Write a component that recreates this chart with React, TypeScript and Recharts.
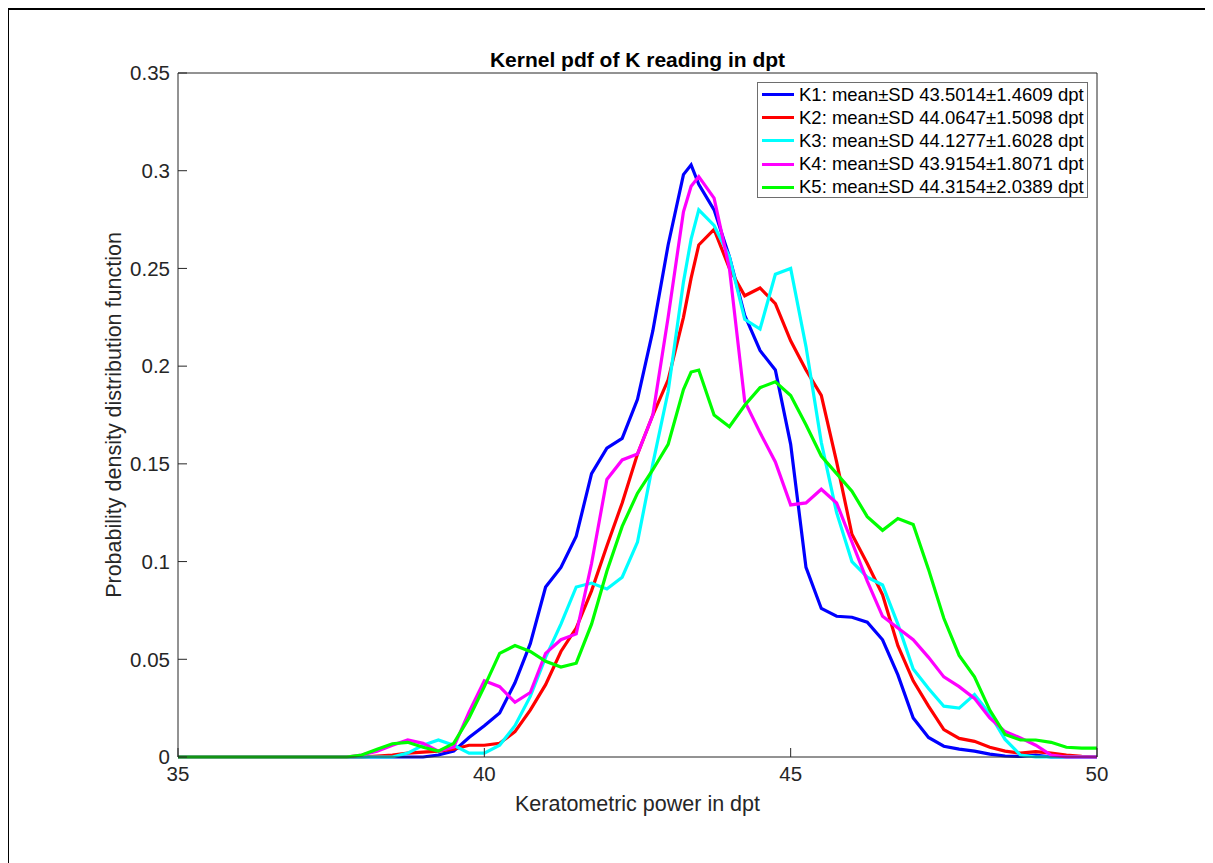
import React from 'react';
import { LineChart, Line, XAxis, YAxis, Legend } from 'recharts';

// keratometric power grid (dpt) and kernel pdf estimates
const kPower = [
  35, 36, 37, 37.5, 37.75, 38, 38.25, 38.5, 38.75, 39, 39.25, 39.5, 39.75, 40, 40.25, 40.5, 40.75,
  41, 41.25, 41.5, 41.75, 42, 42.25, 42.5, 42.75, 43, 43.25, 43.375, 43.5, 43.75, 44, 44.25, 44.5,
  44.75, 45, 45.25, 45.5, 45.75, 46, 46.25, 46.5, 46.75, 47, 47.25, 47.5, 47.75, 48, 48.25, 48.5,
  48.75, 49, 49.25, 49.5, 49.75, 50,
];

const k1 = [
  0, 0, 0, 0, 0, 0, 0, 0, 0, 0, 0.001, 0.003, 0.01, 0.016, 0.0225, 0.038, 0.058,
  0.087, 0.097, 0.113, 0.145, 0.158, 0.163, 0.183, 0.218, 0.262, 0.298, 0.303, 0.293, 0.28, 0.256, 0.226, 0.208,
  0.198, 0.16, 0.097, 0.076, 0.072, 0.0715, 0.069, 0.06, 0.042, 0.02, 0.01, 0.0055, 0.004, 0.003, 0.0015, 0.0005,
  0.0003, 0.001, 0, 0, 0, 0,
];

const k2 = [
  0, 0, 0, 0, 0, 0, 0.0005, 0.001, 0.002, 0.0025, 0.003, 0.004, 0.006, 0.006, 0.007, 0.013, 0.024,
  0.037, 0.054, 0.066, 0.085, 0.108, 0.13, 0.155, 0.175, 0.193, 0.225, 0.245, 0.262, 0.27, 0.25, 0.236, 0.24,
  0.232, 0.213, 0.198, 0.185, 0.151, 0.114, 0.099, 0.083, 0.057, 0.039, 0.026, 0.014, 0.0095, 0.008, 0.005, 0.003,
  0.002, 0.0027, 0.002, 0.001, 0.0003, 0,
];

const k3 = [
  0, 0, 0, 0, 0, 0, 0, 0, 0.002, 0.006, 0.0087, 0.006, 0.002, 0.002, 0.006, 0.016, 0.031,
  0.051, 0.068, 0.087, 0.089, 0.086, 0.092, 0.11, 0.15, 0.187, 0.243, 0.265, 0.28, 0.272, 0.256, 0.224, 0.219,
  0.247, 0.25, 0.21, 0.161, 0.125, 0.1, 0.092, 0.088, 0.068, 0.045, 0.035, 0.026, 0.025, 0.032, 0.022, 0.009,
  0.001, 0, 0, 0, 0, 0,
];

const k4 = [
  0, 0, 0, 0, 0, 0.001, 0.003, 0.006, 0.0087, 0.007, 0.003, 0.005, 0.023, 0.039, 0.036, 0.028, 0.033,
  0.053, 0.06, 0.063, 0.099, 0.142, 0.152, 0.155, 0.175, 0.225, 0.279, 0.292, 0.297, 0.286, 0.25, 0.182, 0.166,
  0.151, 0.129, 0.13, 0.137, 0.13, 0.11, 0.09, 0.072, 0.066, 0.06, 0.051, 0.041, 0.036, 0.03, 0.02, 0.013,
  0.0098, 0.006, 0.001, 0, 0, 0,
];

const k5 = [
  0, 0, 0, 0, 0, 0.001, 0.004, 0.0068, 0.0075, 0.005, 0.003, 0.007, 0.02, 0.036, 0.053, 0.057, 0.054,
  0.049, 0.046, 0.048, 0.068, 0.095, 0.118, 0.135, 0.147, 0.16, 0.188, 0.197, 0.198, 0.175, 0.169, 0.18, 0.189,
  0.192, 0.185, 0.17, 0.154, 0.145, 0.136, 0.123, 0.116, 0.122, 0.119, 0.096, 0.071, 0.052, 0.041, 0.024, 0.0115,
  0.0087, 0.0087, 0.0075, 0.005, 0.0045, 0.0045,
];

const seriesNames = [
  'K1: mean\u00b1SD 43.5014\u00b11.4609 dpt',
  'K2: mean\u00b1SD 44.0647\u00b11.5098 dpt',
  'K3: mean\u00b1SD 44.1277\u00b11.6028 dpt',
  'K4: mean\u00b1SD 43.9154\u00b11.8071 dpt',
  'K5: mean\u00b1SD 44.3154\u00b12.0389 dpt',
];

const xTicks = [35, 40, 45, 50];
const yTicks = [0, 0.05, 0.1, 0.15, 0.2, 0.25, 0.3, 0.35];

const rows = kPower.map((k, i) => ({ k, k1: k1[i], k2: k2[i], k3: k3[i], k4: k4[i], k5: k5[i] }));

const FONT = "'Liberation Sans', Arial, Helvetica, sans-serif";
const AXIS = '#262626';

const LegendBox = ({ payload }: any) => (
  <div
    style={{
      width: 331,
      height: 116,
      boxSizing: 'border-box',
      border: '1px solid #6e6e6e',
      background: '#fff',
      fontFamily: FONT,
      fontSize: 18.5,
      color: '#000',
    }}
  >
    {(payload || []).map((entry: any) => (
      <div key={entry.value} style={{ display: 'flex', alignItems: 'center', height: 23.2 }}>
        <span style={{ display: 'inline-block', width: 32, height: 3, background: entry.color, marginLeft: 4, marginRight: 5 }} />
        <span style={{ whiteSpace: 'nowrap' }}>{entry.value}</span>
      </div>
    ))}
  </div>
);

export default function App() {
  const tickStyle = { fill: AXIS, fontSize: 20.5, fontFamily: FONT };
  return (
    <div style={{ position: 'relative', width: 1205, height: 855, fontFamily: FONT }}>
      <div
        style={{
          position: 'absolute',
          left: -1,
          top: 0,
          width: 1206,
          height: 855,
          boxSizing: 'border-box',
          borderTop: '2px solid #000',
          borderLeft: '2px solid #000',
        }}
      />
      <div style={{ position: 'absolute', left: 0, top: 0 }}>
        <LineChart width={1200} height={850} data={rows} margin={{ top: 64, right: 110, bottom: 8, left: 40 }}>
          <XAxis
            dataKey="k"
            type="number"
            domain={[35, 50]}
            ticks={xTicks}
            interval={0}
            height={93}
            tickSize={-9}
            tickMargin={18}
            tick={tickStyle}
            axisLine={{ stroke: AXIS }}
            tickLine={{ stroke: AXIS }}
            label={{ value: 'Keratometric power in dpt', position: 'center', fill: AXIS, fontSize: 21.5, fontFamily: FONT }}
          />
          <XAxis
            xAxisId="top"
            orientation="top"
            dataKey="k"
            type="number"
            domain={[35, 50]}
            allowDataOverflow
            ticks={xTicks}
            interval={0}
            height={1}
            tickSize={-9}
            tick={false}
            axisLine={{ stroke: AXIS }}
            tickLine={{ stroke: AXIS }}
          />
          <YAxis
            type="number"
            domain={[0, 0.35]}
            ticks={yTicks}
            interval={0}
            width={130}
            tickSize={-9}
            tickMargin={17}
            tick={tickStyle}
            axisLine={{ stroke: AXIS }}
            tickLine={{ stroke: AXIS }}
            label={{
              value: 'Probability density distribution function',
              angle: -90,
              position: 'center',
              fill: AXIS,
              fontSize: 21.5,
              fontFamily: FONT,
            }}
          />
          <YAxis
            yAxisId="right"
            orientation="right"
            type="number"
            domain={[0, 0.35]}
            allowDataOverflow
            ticks={yTicks}
            interval={0}
            width={1}
            tickSize={-9}
            tick={false}
            axisLine={{ stroke: AXIS }}
            tickLine={{ stroke: AXIS }}
          />
          <Legend
            layout="vertical"
            align="center"
            verticalAlign="middle"
            content={<LegendBox />}
            wrapperStyle={{ left: 749, top: 74, width: 331, height: 116 }}
          />
          <Line type="linear" dataKey="k1" name={seriesNames[0]} stroke="#0000ff" strokeWidth={3.2} dot={false} isAnimationActive={false} />
          <Line type="linear" dataKey="k2" name={seriesNames[1]} stroke="#ff0000" strokeWidth={3.2} dot={false} isAnimationActive={false} />
          <Line type="linear" dataKey="k3" name={seriesNames[2]} stroke="#00ffff" strokeWidth={3.2} dot={false} isAnimationActive={false} />
          <Line type="linear" dataKey="k4" name={seriesNames[3]} stroke="#ff00ff" strokeWidth={3.2} dot={false} isAnimationActive={false} />
          <Line type="linear" dataKey="k5" name={seriesNames[4]} stroke="#00ff00" strokeWidth={3.2} dot={false} isAnimationActive={false} />
        </LineChart>
      </div>
      <div
        style={{
          position: 'absolute',
          left: 170,
          top: 40,
          width: 919,
          textAlign: 'center',
          fontWeight: 'bold',
          fontSize: 21,
          lineHeight: '24px',
          color: '#000',
        }}
      >
        Kernel pdf of K reading in dpt
      </div>
    </div>
  );
}
